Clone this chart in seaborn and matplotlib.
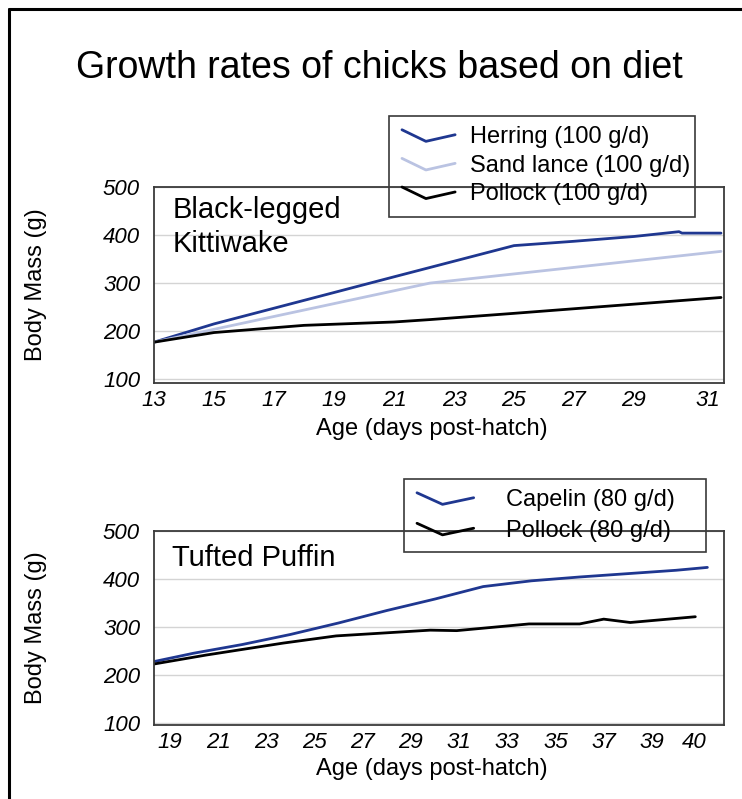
import numpy as np
import pandas as pd
import matplotlib
matplotlib.use('Agg')
import matplotlib.pyplot as plt
import seaborn as sns
from matplotlib.lines import Line2D
from matplotlib.patches import Rectangle
from matplotlib.legend_handler import HandlerLine2D

# Black-legged Kittiwake (100 g/d diets)
kitti_herring_age = [13, 15, 21, 25, 27, 29, 30.5, 30.6, 31.9]
kitti_herring_mass = [177, 215, 313, 378, 387, 397, 407, 404, 404]
kitti_sandlance_age = [13, 22.2, 31.9]
kitti_sandlance_mass = [177, 300, 366]
kitti_pollock_age = [13, 15, 18, 21, 22.2, 25, 31.9]
kitti_pollock_mass = [177, 197, 212, 219, 224, 237, 270]

# Tufted Puffin (80 g/d diets)
puffin_capelin_age = [18.3, 20, 22, 24, 26, 28, 30, 32, 34, 36, 38, 40, 41.3]
puffin_capelin_mass = [227, 245, 263, 284, 308, 334, 358, 384, 396, 404, 411, 418, 424]
puffin_pollock_age = [18.3, 20.5, 23.7, 25.9, 29.8, 30.9, 33.9, 36, 37, 38.1, 40.8]
puffin_pollock_mass = [222, 241, 266, 281, 293, 292, 306, 306, 316, 309, 321]

kitti_labels = ['Herring (100 g/d)', 'Sand lance (100 g/d)', 'Pollock (100 g/d)']
puffin_labels = ['Capelin (80 g/d)', 'Pollock (80 g/d)']
kitti_ticks = ['13', '15', '17', '19', '21', '23', '25', '27', '29', '31']
puffin_ticks = ['19', '21', '23', '25', '27', '29', '31', '33', '35', '37', '39', '40']
y_ticks = [100, 200, 300, 400, 500]

dark_blue = '#1f3790'
light_blue = '#bac3e2'

kitti = pd.concat([
    pd.DataFrame({'age': kitti_herring_age, 'mass': kitti_herring_mass, 'diet': kitti_labels[0]}),
    pd.DataFrame({'age': kitti_sandlance_age, 'mass': kitti_sandlance_mass, 'diet': kitti_labels[1]}),
    pd.DataFrame({'age': kitti_pollock_age, 'mass': kitti_pollock_mass, 'diet': kitti_labels[2]}),
])
puffin = pd.concat([
    pd.DataFrame({'age': puffin_capelin_age, 'mass': puffin_capelin_mass, 'diet': puffin_labels[0]}),
    pd.DataFrame({'age': puffin_pollock_age, 'mass': puffin_pollock_mass, 'diet': puffin_labels[1]}),
])

sns.set_style('white')
plt.rcParams['font.family'] = ['Liberation Sans', 'DejaVu Sans']
plt.rcParams['text.color'] = 'black'
plt.rcParams['axes.labelcolor'] = 'black'
plt.rcParams['xtick.color'] = 'black'
plt.rcParams['ytick.color'] = 'black'


# legend handle drawn as a small "V", like the original
class VHandler(HandlerLine2D):
    def create_artists(self, legend, orig_handle, xdescent, ydescent, width, height, fontsize, trans):
        xs = np.array([0, width * 0.45, width]) - xdescent
        ys = np.array([height * 0.8, height * 0.1, height * 0.5]) - ydescent
        line = Line2D(xs, ys)
        self.update_prop(line, orig_handle, legend)
        line.set_transform(trans)
        return [line]


W, H = 742, 799
fig = plt.figure(figsize=(W / 100, H / 100), dpi=100)
ax1 = fig.add_axes([154 / W, 1 - 383 / H, 570 / W, 196 / H])
ax2 = fig.add_axes([154 / W, 1 - 725 / H, 570 / W, 194 / H])

sns.lineplot(data=kitti, x='age', y='mass', hue='diet', hue_order=kitti_labels,
             palette=[dark_blue, light_blue, 'black'], linewidth=2, legend=False, ax=ax1)
sns.lineplot(data=puffin, x='age', y='mass', hue='diet', hue_order=puffin_labels,
             palette=[dark_blue, 'black'], linewidth=2, legend=False, ax=ax2)

ax1.set_xlim(13, 32.0)
ax1.set_ylim(92, 500)
ax1.set_xticks([13, 15, 17, 19, 21, 23, 25, 27, 29, 31.45])
ax1.set_xticklabels(kitti_ticks, fontstyle='italic', fontsize=16)
ax2.set_xlim(18.34, 41.99)
ax2.set_ylim(95, 500)
ax2.set_xticks([19, 21, 23, 25, 27, 29, 31, 33, 35, 37, 39, 40.75])
ax2.set_xticklabels(puffin_ticks, fontstyle='italic', fontsize=16)

for ax in (ax1, ax2):
    ax.set_yticks(y_ticks)
    ax.set_yticklabels([str(v) for v in y_ticks], fontstyle='italic', fontsize=16)
    ax.grid(axis='y', color='#d4d4d4', linewidth=1)
    ax.set_axisbelow(True)
    for s in ax.spines.values():
        s.set_color('#3a3a3a')
        s.set_linewidth(1.3)
    ax.tick_params(axis='y', length=6, width=1.3, color='#3a3a3a', pad=4)
    ax.tick_params(axis='x', length=0, pad=5)
    ax.set_xlabel('Age (days post-hatch)', fontsize=17)
    ax.set_ylabel('Body Mass (g)', fontsize=17)
    ax.yaxis.set_label_coords(-0.187, 0.5)

ax1.xaxis.set_label_coords(0.488, -0.178)
ax2.xaxis.set_label_coords(0.488, -0.172)

ax1.text(0.032, 0.955, 'Black-legged\nKittiwake', transform=ax1.transAxes,
         fontsize=21, va='top', ha='left', linespacing=1.3)
ax2.text(0.032, 0.86, 'Tufted Puffin', transform=ax2.transAxes,
         fontsize=21, va='center', ha='left')

# legends, with their boxes drawn separately so they can stick out of the axes
leg1 = ax1.legend(handles=ax1.get_lines()[:3], labels=kitti_labels, loc='upper left',
                  bbox_to_anchor=(402 / W, 1 - 126 / H), bbox_transform=fig.transFigure,
                  frameon=False, fontsize=17, borderpad=0, borderaxespad=0,
                  handlelength=2.25, handletextpad=0.64, labelspacing=0.28,
                  handler_map={Line2D: VHandler()})
leg2 = ax2.legend(handles=ax2.get_lines()[:2], labels=puffin_labels, loc='upper left',
                  bbox_to_anchor=(417 / W, 1 - 489 / H), bbox_transform=fig.transFigure,
                  frameon=False, fontsize=17, borderpad=0, borderaxespad=0,
                  handlelength=2.4, handletextpad=1.36, labelspacing=0.36,
                  handler_map={Line2D: VHandler()})

fig.add_artist(Rectangle((389 / W, 1 - 217 / H), 306 / W, 101 / H, transform=fig.transFigure,
                         fill=False, edgecolor='#3a3a3a', linewidth=1.2))
fig.add_artist(Rectangle((404 / W, 1 - 552 / H), 302 / W, 73 / H, transform=fig.transFigure,
                         fill=False, edgecolor='#3a3a3a', linewidth=1.2))

fig.text(379 / W, 1 - 68 / H, 'Growth rates of chicks based on diet', fontsize=27,
         ha='center', va='center')

# frame lines at the left and top of the picture
fig.add_artist(Line2D([9 / W, 9 / W], [0, 1 - 9 / H], transform=fig.transFigure, color='black', linewidth=2.2))
fig.add_artist(Line2D([9 / W, 1], [1 - 9 / H, 1 - 9 / H], transform=fig.transFigure, color='black', linewidth=2.2))

fig.savefig('out.png', dpi=100)
